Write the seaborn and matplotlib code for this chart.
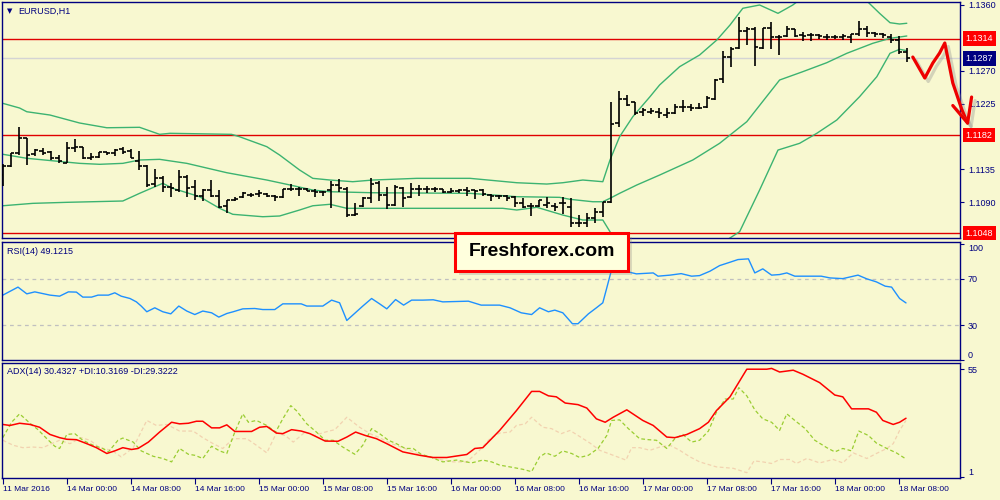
import numpy as np
import matplotlib
matplotlib.use('Agg')
import matplotlib.pyplot as plt
import matplotlib.patheffects as pe
from matplotlib.patches import Rectangle
from matplotlib.transforms import blended_transform_factory
import seaborn as sns

# --- price bars (H1), index 0 = 11 Mar 2016 16:00 ---
bar_open = [1.11274, 1.11398, 1.11579, 1.11781, 1.11562, 1.11603, 1.11589, 1.11507, 1.11443, 1.11648,
            1.11653, 1.11503, 1.11525, 1.11585, 1.11575, 1.11630, 1.11603, 1.11466, 1.11398, 1.11147,
            1.11237, 1.11114, 1.11069, 1.11251, 1.11114, 1.10987, 1.11069, 1.10987, 1.10850, 1.10926,
            1.10969, 1.11001, 1.11014, 1.11014, 1.10987, 1.10969, 1.11083, 1.11083, 1.11083, 1.11056,
            1.11046, 1.11069, 1.11138, 1.11083, 1.10727, 1.10850, 1.10956, 1.11161, 1.11001, 1.10864,
            1.11092, 1.10969, 1.11083, 1.11083, 1.11083, 1.11079, 1.11046, 1.11060, 1.11069, 1.11069,
            1.11069, 1.11001, 1.10991, 1.10987, 1.10978, 1.10891, 1.10850, 1.10850, 1.10864, 1.10850,
            1.10887, 1.10841, 1.10622, 1.10622, 1.10682, 1.10772, 1.10909, 1.11982, 1.12314, 1.12269,
            1.12140, 1.12140, 1.12140, 1.12095, 1.12127, 1.12201, 1.12209, 1.12187, 1.12201, 1.12310,
            1.12584, 1.12893, 1.13008, 1.13248, 1.13268, 1.13008, 1.13281, 1.13166, 1.13176, 1.13268,
            1.13190, 1.13190, 1.13190, 1.13166, 1.13166, 1.13166, 1.13158, 1.13203, 1.13268, 1.13213,
            1.13203, 1.13166, 1.13121, 1.12961]
bar_high = [1.11425, 1.11579, 1.11935, 1.11785, 1.11630, 1.11644, 1.11603, 1.11548, 1.11730, 1.11767,
            1.11657, 1.11579, 1.11593, 1.11593, 1.11626, 1.11653, 1.11626, 1.11603, 1.11411, 1.11352,
            1.11261, 1.11169, 1.11343, 1.11274, 1.11206, 1.11079, 1.11206, 1.11069, 1.10932, 1.10973,
            1.11046, 1.11032, 1.11069, 1.11024, 1.11001, 1.11083, 1.11151, 1.11114, 1.11101, 1.11083,
            1.11056, 1.11192, 1.11216, 1.11114, 1.10895, 1.10969, 1.11229, 1.11196, 1.11114, 1.11138,
            1.11114, 1.11161, 1.11138, 1.11128, 1.11106, 1.11090, 1.11101, 1.11083, 1.11106, 1.11076,
            1.11079, 1.11008, 1.11001, 1.11001, 1.10987, 1.10956, 1.10895, 1.10932, 1.10969, 1.10887,
            1.10978, 1.10956, 1.10727, 1.10750, 1.10819, 1.10909, 1.12277, 1.12428, 1.12369, 1.12277,
            1.12187, 1.12187, 1.12195, 1.12187, 1.12246, 1.12300, 1.12246, 1.12263, 1.12355, 1.12584,
            1.12975, 1.13030, 1.13440, 1.13295, 1.13303, 1.13281, 1.13372, 1.13190, 1.13313, 1.13272,
            1.13235, 1.13213, 1.13203, 1.13203, 1.13190, 1.13203, 1.13210, 1.13385, 1.13313, 1.13235,
            1.13221, 1.13203, 1.13176, 1.13008]
bar_low = [1.11124, 1.11380, 1.11548, 1.11411, 1.11541, 1.11548, 1.11480, 1.11439, 1.11434, 1.11593,
           1.11489, 1.11480, 1.11503, 1.11548, 1.11534, 1.11558, 1.11503, 1.11343, 1.11114, 1.11114,
           1.11038, 1.10969, 1.11046, 1.10978, 1.10932, 1.10923, 1.10978, 1.10819, 1.10759, 1.10919,
           1.10960, 1.10978, 1.10978, 1.10969, 1.10923, 1.10960, 1.11056, 1.10987, 1.11056, 1.10978,
           1.10987, 1.10819, 1.11046, 1.10696, 1.10714, 1.10841, 1.10895, 1.10923, 1.10805, 1.10850,
           1.10833, 1.10956, 1.10987, 1.11032, 1.11046, 1.11032, 1.11032, 1.11032, 1.10987, 1.10942,
           1.10987, 1.10923, 1.10946, 1.10919, 1.10841, 1.10819, 1.10714, 1.10833, 1.10819, 1.10786,
           1.10741, 1.10559, 1.10567, 1.10559, 1.10622, 1.10704, 1.10895, 1.11927, 1.12218, 1.12095,
           1.12082, 1.12109, 1.12050, 1.12050, 1.12109, 1.12140, 1.12154, 1.12173, 1.12191, 1.12300,
           1.12537, 1.12756, 1.13000, 1.13053, 1.12766, 1.13000, 1.12994, 1.12916, 1.13166, 1.13158,
           1.13112, 1.13112, 1.13131, 1.13121, 1.13131, 1.13121, 1.13076, 1.13176, 1.13166, 1.13166,
           1.13144, 1.13076, 1.12930, 1.12824]
bar_close = [1.11398, 1.11575, 1.11781, 1.11548, 1.11616, 1.11575, 1.11507, 1.11466, 1.11640, 1.11657,
             1.11503, 1.11525, 1.11585, 1.11579, 1.11616, 1.11585, 1.11503, 1.11398, 1.11138, 1.11237,
             1.11114, 1.11092, 1.11251, 1.11092, 1.10987, 1.11069, 1.10987, 1.10833, 1.10926, 1.10953,
             1.11032, 1.11001, 1.11032, 1.10987, 1.10969, 1.11083, 1.11083, 1.11083, 1.11056, 1.11046,
             1.11046, 1.11138, 1.11092, 1.10727, 1.10741, 1.10956, 1.11151, 1.11001, 1.10864, 1.11114,
             1.10956, 1.11083, 1.11083, 1.11083, 1.11083, 1.11046, 1.11060, 1.11069, 1.11060, 1.11056,
             1.11014, 1.10991, 1.10987, 1.10956, 1.10895, 1.10841, 1.10850, 1.10932, 1.10891, 1.10833,
             1.10887, 1.10614, 1.10622, 1.10682, 1.10772, 1.10901, 1.11972, 1.12314, 1.12232, 1.12118,
             1.12164, 1.12154, 1.12118, 1.12118, 1.12201, 1.12209, 1.12187, 1.12195, 1.12332, 1.12574,
             1.12893, 1.12994, 1.13248, 1.13268, 1.13021, 1.13281, 1.13158, 1.13158, 1.13268, 1.13176,
             1.13176, 1.13190, 1.13176, 1.13166, 1.13166, 1.13176, 1.13203, 1.13268, 1.13213, 1.13203,
             1.13190, 1.13121, 1.12961, 1.12870]

# --- Bollinger bands (read as vertices: bar index, price) ---
bb_upper_x = [0, 2.1, 3, 5.9, 9.6, 13, 17.1, 19.6, 20.9, 28.6, 29.6, 33, 34.6, 37.1, 38.75, 40.9, 43.75,
              46.25, 51.75, 58.4, 64.25, 68, 70, 72.5, 75, 75.9, 77.1, 78.75, 80.9, 82.1, 84.6, 87.1,
              89.25, 90.9, 92.5, 94.6, 96.9, 98.75, 102, 106, 107.4, 108.1, 109.6, 110.9, 112.1, 113]
bb_upper = [1.12255, 1.12191, 1.12140, 1.12095, 1.11986, 1.11921, 1.11927, 1.11831, 1.11845, 1.11831,
            1.11798, 1.11662, 1.11548, 1.11343, 1.11229, 1.11206, 1.11183, 1.11206, 1.11229, 1.11229,
            1.11169, 1.11151, 1.11169, 1.11206, 1.11183, 1.11480, 1.11798, 1.12072, 1.12346, 1.12506,
            1.12756, 1.12916, 1.13121, 1.13326, 1.13555, 1.13600, 1.13486, 1.13600, 1.13870, 1.13940,
            1.13740, 1.13645, 1.13486, 1.13358, 1.13340, 1.13350]
bb_mid_x = [0, 3, 9.6, 12.1, 15, 17.1, 19.6, 23, 28, 33, 35.9, 38.75, 40.9, 46.25, 58.4, 64.25, 69.6,
            70.9, 73.75, 75, 75.9, 77.1, 79.25, 82.1, 86.25, 89.6, 93, 97.1, 100, 103, 105.5, 108.75,
            110.9, 113]
bb_mid = [1.11558, 1.11503, 1.11434, 1.11421, 1.11434, 1.11480, 1.11489, 1.11434, 1.11306, 1.11206,
          1.11138, 1.11069, 1.11046, 1.11032, 1.11024, 1.10978, 1.10969, 1.10942, 1.10909, 1.10909,
          1.10956, 1.11024, 1.11138, 1.11274, 1.11480, 1.11708, 1.12004, 1.12574, 1.12688, 1.12811,
          1.12939, 1.13076, 1.13144, 1.13176]
bb_lower_x = [0, 3.75, 8, 15, 17.1, 20, 21.25, 24.6, 27.1, 28.75, 32.5, 34.6, 37.1, 38.75, 40.9, 43,
              52.5, 62.5, 64.25, 66.75, 70, 72.5, 75, 75.9, 77.75, 82.1, 87.1, 90.5, 92.1, 94.6, 96.9,
              99.6, 101.75, 104.25, 107.1, 109.25, 110.9, 112.1, 113]
bb_lower = [1.10854, 1.10887, 1.10901, 1.10919, 1.11024, 1.11161, 1.11092, 1.10978, 1.10819, 1.10737,
            1.10704, 1.10714, 1.10796, 1.10854, 1.10874, 1.10819, 1.10819, 1.10819, 1.10796, 1.10833,
            1.10727, 1.10659, 1.10659, 1.10499, 1.09975, 1.09564, 1.09701, 1.10385, 1.10499, 1.11069,
            1.11616, 1.11708, 1.11845, 1.12027, 1.12346, 1.12619, 1.12939, 1.12994, 1.12975]

# --- RSI(14) ---
rsi_x = [0, 1.9, 3, 4, 5.9, 7.1, 8.2, 9.2, 10, 11.1, 11.9, 13.2, 14, 14.8, 15.9, 16.7, 17.3, 18, 19, 20,
         21, 22, 23, 24, 25, 26.1, 27, 28, 28.8, 30, 31.5, 32.5, 34, 35, 37.3, 38, 40, 41.1, 42.1, 43,
         45, 46.1, 47.1, 48, 49.1, 50.1, 51.1, 52.5, 53.8, 55, 58.2, 59.8, 62.1, 63.4, 64.8, 66.1, 67.1,
         68.2, 69, 70, 71.2, 71.9, 73.2, 74.2, 75, 75.5, 76.1, 77.5, 79.2, 81.3, 81.9, 83.4, 84.8, 86.1,
         87.1, 88.4, 89.6, 90.9, 91.9, 93.2, 94, 95, 96.1, 97.1, 98, 99, 102.3, 103.4, 105, 106.9, 108,
         109.2, 110.3, 111.1, 112.1, 112.9]
rsi_val = [55.8, 62.7, 56.9, 58.6, 55.8, 54.9, 58.6, 58.4, 54.1, 54.1, 55.8, 55.8, 57.8, 54.9, 52.9, 50.0,
           46.4, 41.5, 44.9, 41.5, 39.7, 46.4, 42.1, 39.1, 42.1, 40.6, 36.9, 40.0, 41.5, 44.0, 44.3, 43.4,
           43.4, 48.3, 48.3, 46.4, 46.4, 51.5, 49.2, 34.0, 46.4, 52.9, 48.3, 44.0, 52.0, 47.2, 51.5, 51.5,
           51.8, 50.0, 50.6, 47.2, 47.2, 44.9, 40.6, 39.1, 44.9, 41.5, 42.9, 40.6, 31.2, 31.2, 39.7, 44.9,
           49.2, 62.1, 77.8, 76.9, 74.1, 74.9, 72.1, 73.0, 74.3, 72.1, 72.6, 76.4, 81.2, 84.1, 86.4, 87.0,
           74.9, 78.4, 73.0, 73.5, 74.9, 72.1, 72.1, 70.6, 70.0, 73.0, 69.8, 67.2, 63.5, 62.7, 52.9, 49.1]

# --- ADX(14), +DI, -DI ---
adx_x = [0, 0.9, 2.1, 3.4, 4.6, 5.9, 7.1, 8, 9.2, 10.5, 11.7, 13, 14, 15, 16.1, 16.9, 18.2, 19.6, 21.1,
         22.1, 23.2, 24.2, 25, 26.1, 27.1, 28, 29, 31.1, 32.1, 33, 34.2, 35, 36.1, 37.3, 38.4, 40.3,
         41.9, 43, 44.1, 45.3, 46.7, 48, 50, 52.1, 53.8, 55.5, 58, 59, 60, 62.1, 64.2, 66.1, 67.1, 68.2,
         69.2, 70.3, 71.9, 73, 74.2, 75.3, 76.3, 78, 80, 81.3, 83, 84, 85.5, 87.1, 88.2, 89.2, 90.9, 93,
         95.5, 96.1, 97.1, 98.8, 100, 102.1, 104, 105, 106.1, 108.2, 109.2, 110, 111.3, 112.1, 112.9]
adx_val = [27.3, 26.8, 27.9, 27.3, 25.9, 22.3, 20.7, 19.9, 19.7, 17.7, 15.7, 12.8, 14.1, 15.7, 14.8, 15.3,
           18.5, 23.5, 28.4, 27.6, 27.9, 28.9, 28.9, 25.6, 25.6, 27.1, 23.8, 23.8, 25.9, 26.3, 23.0, 22.7,
           24.7, 24.0, 22.7, 19.0, 18.9, 21.0, 23.5, 21.8, 20.2, 17.7, 13.6, 11.9, 10.8, 10.8, 12.3, 15.3,
           15.7, 24.3, 34.2, 43.8, 43.8, 41.6, 41.1, 38.0, 37.2, 35.5, 30.1, 28.4, 30.9, 34.6, 29.3, 26.8,
           21.0, 20.7, 22.3, 25.2, 28.4, 34.2, 41.1, 54.9, 54.9, 55.3, 53.5, 54.4, 52.4, 48.2, 42.0, 41.1,
           35.1, 35.1, 33.4, 29.3, 27.3, 28.4, 30.4]
pdi_x = [0, 1.1, 2.1, 3.4, 4.4, 5.5, 6.5, 7.1, 8, 9, 10, 11.3, 12.5, 13.2, 14.4, 15, 16.3, 17.3, 18.8, 20,
         21.1, 22.1, 23.2, 24, 25, 26.1, 27.1, 28, 29, 30, 30.7, 31.7, 33, 34.1, 35, 36, 36.7, 38, 39.2,
         40.3, 41.3, 42.5, 44, 45, 46.1, 47.1, 48.2, 49.2, 50.3, 51.3, 52.3, 53.4, 55, 56.7, 58.6, 60,
         61.1, 62.1, 63.8, 65, 66.1, 67.1, 67.9, 69, 70, 71.1, 72.1, 73.2, 74.4, 75.5, 76.1, 77.1, 78.2,
         79.6, 80.7, 81.7, 83, 84, 85, 86.1, 87.1, 88.2, 89.2, 90.3, 91.3, 92, 93, 94, 95, 96.1, 97.1, 98,
         99, 100.3, 101.5, 103, 104, 105, 106.1, 107, 108.2, 109.2, 110.5, 111.7, 112.8]
pdi_val = [20.7, 28.4, 32.6, 27.9, 24.7, 20.2, 16.4, 15.3, 22.3, 22.7, 19.4, 16.9, 15.3, 13.6, 19.4, 20.5,
           18.5, 14.1, 11.4, 10.3, 8.6, 15.3, 12.4, 11.9, 10.3, 16.4, 14.1, 12.8, 23.5, 32.6, 28.4, 29.3,
           26.8, 23.5, 30.1, 36.7, 34.2, 27.6, 23.5, 19.4, 19.4, 16.0, 12.4, 16.9, 25.2, 22.7, 19.4, 17.7,
           15.3, 15.3, 12.4, 11.1, 8.6, 9.5, 8.1, 9.5, 8.6, 7.0, 5.8, 4.9, 3.7, 11.1, 13.1, 11.4, 14.1,
           12.8, 10.8, 11.9, 15.3, 21.8, 29.3, 29.6, 25.2, 20.2, 19.7, 19.4, 15.3, 20.2, 22.3, 18.5, 19.4,
           24.0, 33.4, 40.0, 40.0, 45.7, 41.6, 34.6, 30.1, 28.4, 24.3, 32.6, 29.3, 25.2, 19.4, 15.7, 13.6,
           15.3, 14.1, 24.0, 21.8, 18.0, 15.3, 13.1, 10.3]
mdi_x = [0, 1.3, 2.5, 3.8, 5, 6.1, 7.1, 8.4, 9.8, 10.9, 12.1, 13.6, 14.8, 16.3, 18, 19.2, 20.5, 22.1, 23.8,
         25, 26.3, 27.5, 28.8, 30.5, 31.7, 33, 34.2, 35.3, 36.3, 37.8, 39, 40.3, 41.5, 43, 44.6, 45.9,
         47.1, 48.4, 50, 51.7, 53, 54.6, 56.3, 58, 59.6, 60.9, 62.1, 63.4, 64.2, 65.3, 66.1, 67.5, 68.6,
         69.8, 70.9, 72.1, 73.4, 74.6, 76.3, 77.9, 78.6, 79.6, 80.9, 82.1, 83.4, 84.6, 85.9, 87.1, 89.2,
         91.3, 93, 93.9, 95, 96.1, 97.1, 98.4, 99.2, 100.5, 102.1, 103.8, 105, 106.3, 108, 109.2, 110.5,
         111.3, 112.1, 112.9]
mdi_val = [19.4, 16.9, 15.7, 16.0, 15.7, 17.7, 19.4, 17.7, 20.7, 19.4, 15.7, 14.4, 11.1, 15.7, 29.3, 26.8,
           27.3, 24.0, 24.0, 20.7, 17.7, 15.3, 20.2, 20.2, 16.9, 13.1, 23.0, 21.8, 18.5, 23.5, 21.8, 23.5,
           24.7, 30.9, 25.9, 22.7, 20.7, 18.0, 15.7, 13.1, 11.1, 9.8, 8.6, 8.6, 14.4, 20.2, 23.0, 23.5,
           26.8, 27.6, 30.9, 25.9, 25.2, 22.7, 24.3, 21.3, 18.0, 14.4, 11.9, 9.5, 15.7, 15.7, 14.4, 16.0,
           16.9, 14.4, 11.1, 8.6, 6.1, 5.4, 3.2, 9.1, 8.6, 7.8, 9.8, 9.8, 7.8, 10.3, 8.1, 9.8, 8.1, 13.1,
           10.3, 12.8, 15.3, 17.7, 24.3, 29.3]

# --- axis labels / levels ---
time_tick_idx = [0, 8, 16, 24, 32, 40, 48, 56, 64, 72, 80, 88, 96, 104, 112]
time_tick_labels = ['11 Mar 2016', '14 Mar 00:00', '14 Mar 08:00', '14 Mar 16:00', '15 Mar 00:00',
                    '15 Mar 08:00', '15 Mar 16:00', '16 Mar 00:00', '16 Mar 08:00', '16 Mar 16:00',
                    '17 Mar 00:00', '17 Mar 08:00', '17 Mar 16:00', '18 Mar 00:00', '18 Mar 08:00']
price_ticks = [1.1360, 1.1270, 1.1225, 1.1135, 1.1090]
red_levels = [1.1314, 1.1182, 1.1048]
last_price = 1.1287

# hand-drawn forecast arrow (bar index, price)
arrow_x = [113.75, 115.25, 116.25, 117.1, 117.75, 118.1, 118.75, 119.9, 120.6]
arrow_y = [1.12888, 1.12601, 1.12806, 1.12943, 1.13080, 1.12888, 1.12533, 1.12163, 1.11985]
arrow_head_x = [118.75, 120.6, 121.1]
arrow_head_y = [1.12225, 1.11985, 1.12341]

# --- style ---
sns.set_theme(style='white')
plt.rcParams['font.family'] = ['Liberation Sans', 'DejaVu Sans']

BG = '#F8F8D0'
NAVY = '#000080'
BAND = '#3CB371'

fig = plt.figure(figsize=(10, 5), dpi=100, facecolor=BG)
ax_p = fig.add_axes([0.002, 0.524, 0.9576, 0.472])
ax_r = fig.add_axes([0.002, 0.280, 0.9576, 0.236], sharex=ax_p)
ax_a = fig.add_axes([0.002, 0.044, 0.9576, 0.230], sharex=ax_p)

for ax in (ax_p, ax_r, ax_a):
    ax.set_facecolor(BG)
    for s in ax.spines.values():
        s.set_color(NAVY)
        s.set_linewidth(1.0)
    ax.yaxis.tick_right()
    ax.tick_params(axis='y', colors=NAVY, labelsize=6.5, length=3, width=0.8, pad=3,
                   direction='out', right=True, left=False)
    ax.grid(False)

# --- price panel ---
idx = np.arange(len(bar_open))
for lv in red_levels:
    ax_p.axhline(lv, color='#E00000', lw=1.0, zorder=1)
ax_p.axhline(last_price, color='#D4D4D4', lw=1.0, zorder=1)

for bx, by in ((bb_upper_x, bb_upper), (bb_mid_x, bb_mid), (bb_lower_x, bb_lower)):
    sns.lineplot(x=bx, y=by, ax=ax_p, color=BAND, lw=1.0, estimator=None, sort=False)

ax_p.vlines(idx, bar_low, bar_high, color='black', lw=1.2, zorder=3)
ax_p.hlines(bar_open, idx - 0.45, idx, color='black', lw=1.2, zorder=3)
ax_p.hlines(bar_close, idx, idx + 0.45, color='black', lw=1.2, zorder=3)

ax_p.set_ylim(1.10413, 1.13641)
ax_p.set_yticks(price_ticks)
ax_p.set_yticklabels([f'{v:.4f}' for v in price_ticks])

trans = blended_transform_factory(ax_p.transAxes, ax_p.transData)
for lv in red_levels:
    ax_p.text(1.0065, lv, f'{lv:.4f}', transform=trans, color='white', fontsize=6.5,
              va='center', ha='left', clip_on=False, zorder=6,
              bbox=dict(boxstyle='square,pad=0.3', fc='#FF0000', ec='none'))
ax_p.text(1.0065, last_price, f'{last_price:.4f}', transform=trans, color='white', fontsize=6.5,
          va='center', ha='left', clip_on=False, zorder=6,
          bbox=dict(boxstyle='square,pad=0.3', fc=NAVY, ec='none'))

shadow = [pe.SimpleLineShadow(offset=(2.5, -2.5), shadow_color='#909090', alpha=0.35), pe.Normal()]
ax_p.plot(arrow_x, arrow_y, color='#EE0000', lw=2.3, clip_on=False, zorder=10,
          solid_joinstyle='round', solid_capstyle='round', path_effects=shadow)
ax_p.plot(arrow_head_x, arrow_head_y, color='#EE0000', lw=2.3, clip_on=False, zorder=10,
          solid_joinstyle='round', solid_capstyle='round', path_effects=shadow)

# --- RSI panel ---
ax_r.axhline(70, color='#C0C0C0', lw=0.9, ls=(0, (3, 3)))
ax_r.axhline(30, color='#C0C0C0', lw=0.9, ls=(0, (3, 3)))
sns.lineplot(x=rsi_x, y=rsi_val, ax=ax_r, color='#1E90FF', lw=1.0, estimator=None, sort=False)
ax_r.set_ylim(0.26, 101.5)
ax_r.set_yticks([0, 30, 70, 100])
ax_r.set_yticklabels(['0', '30', '70', '100'])
rt = ax_r.yaxis.get_major_ticks()
rt[0].label2.set_va('bottom')
rt[3].label2.set_va('top')

# --- ADX panel ---
sns.lineplot(x=mdi_x, y=mdi_val, ax=ax_a, color='#F2D2B0', lw=0.9, ls=(0, (3, 2)),
             estimator=None, sort=False)
sns.lineplot(x=pdi_x, y=pdi_val, ax=ax_a, color='#9ACD32', lw=0.9, ls=(0, (3, 2)),
             estimator=None, sort=False)
sns.lineplot(x=adx_x, y=adx_val, ax=ax_a, color='#FF0000', lw=1.1, estimator=None, sort=False)
ax_a.set_ylim(0.55, 58.0)
ax_a.set_yticks([1, 55])
ax_a.set_yticklabels(['1', '55'])
at = ax_a.yaxis.get_major_ticks()
at[0].label2.set_va('bottom')

# --- shared time axis ---
ax_a.set_xlim(-0.1, 119.6)
ax_a.set_xticks(time_tick_idx)
ax_a.set_xticklabels(time_tick_labels, ha='left')
for ax in (ax_p, ax_r):
    ax.tick_params(axis='x', bottom=False, labelbottom=False)
ax_a.tick_params(axis='x', colors=NAVY, labelsize=6, length=4, width=0.8, pad=2,
                 direction='out', bottom=True)
for ax in (ax_p, ax_r, ax_a):
    ax.set_xlabel('')
    ax.set_ylabel('')

# --- panel captions ---
fig.text(0.007, 1 - 11 / 500, '\u25bc', fontsize=5, color=NAVY, family='DejaVu Sans', va='center')
fig.text(0.018, 1 - 11 / 500, 'EURUSD,H1', fontsize=6.5, color=NAVY, va='center')
fig.text(0.007, 1 - 252 / 500, 'RSI(14) 49.1215', fontsize=6.5, color=NAVY, va='center')
fig.text(0.007, 1 - 372 / 500, 'ADX(14) 30.4327 +DI:10.3169 -DI:29.3222', fontsize=6.5,
         color=NAVY, va='center')

# --- watermark box ---
fig.add_artist(Rectangle((459 / 1000, 1 - 275 / 500), 173 / 1000, 38 / 500, transform=fig.transFigure,
                         fc='#808080', alpha=0.25, ec='none', zorder=4))
fig.add_artist(Rectangle((455 / 1000, 1 - 271 / 500), 173 / 1000, 38 / 500, transform=fig.transFigure,
                         fc='#FFFFDD', ec='#FF0000', lw=2.2, zorder=5))
fig.text(541.5 / 1000, 1 - 252 / 500, 'Freshforex.com', fontsize=14, fontweight='bold',
         ha='center', va='center', color='black', zorder=6)

fig.savefig('out.png', dpi=100, facecolor=BG)
